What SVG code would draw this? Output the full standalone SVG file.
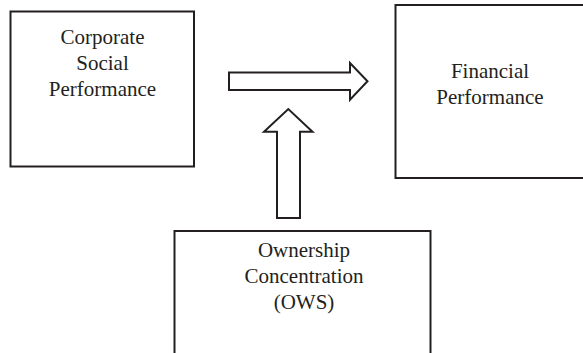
<svg xmlns="http://www.w3.org/2000/svg" width="583" height="353" viewBox="0 0 583 353">
<style>
.box{fill:#fff;stroke:#231f20;stroke-width:2}
.arr{fill:#fff;stroke:#231f20;stroke-width:2;stroke-linejoin:miter}
text{font-family:"Liberation Serif","Times New Roman",serif;font-size:21px;fill:#231f20;text-anchor:middle}
</style>
<rect width="583" height="353" fill="#fff"/>
<g id="csp">
<rect class="box" x="10.5" y="11.5" width="183.5" height="155"/>
<text x="102.5" y="44">Corporate</text>
<text x="102.5" y="70">Social</text>
<text x="102.5" y="96">Performance</text>
</g>
<g id="fp">
<rect class="box" x="395.5" y="5" width="190" height="173"/>
<text x="490" y="78">Financial</text>
<text x="490" y="104">Performance</text>
</g>
<g id="ows">
<rect class="box" x="174.5" y="231" width="256" height="125"/>
<text x="304" y="257">Ownership</text>
<text x="304" y="283">Concentration</text>
<text x="304" y="309">(OWS)</text>
</g>
<g id="connectors">
<path class="arr" d="M229,72.5 H350 V63 L367.5,81.3 L350,99.8 V90 H229 Z"/>
<path class="arr" d="M277,218 V131.7 H264 L288.3,109 L312.5,131.7 H300 V218 Z"/>
</g>
</svg>
